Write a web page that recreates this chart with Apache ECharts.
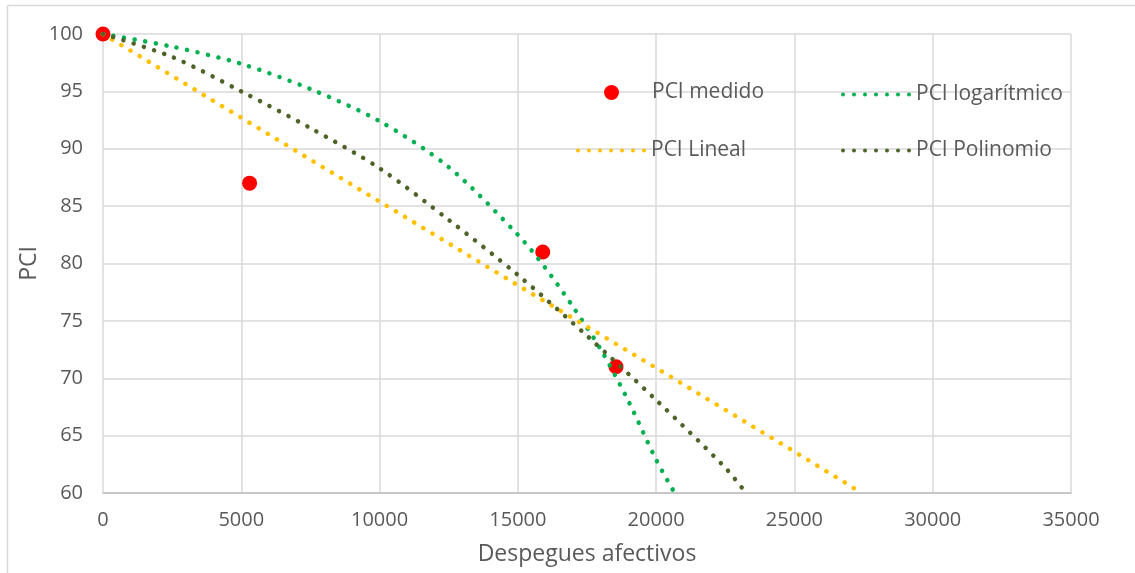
<!DOCTYPE html>
<html>
<head>
<meta charset="utf-8">
<script src="https://cdn.jsdelivr.net/npm/echarts@6/dist/echarts.min.js"></script>
<style>
html,body{margin:0;padding:0;background:#fff;}
#chart{width:1135px;height:573px;}
</style>
</head>
<body>
<div id="chart"></div>
<script>
// Data
var xTicks = [0, 5000, 10000, 15000, 20000, 25000, 30000, 35000];
var yTicks = [60, 65, 70, 75, 80, 85, 90, 95, 100];

var medidoX = [0, 5300, 15900, 18550];
var medidoY = [100, 87, 81, 71];

var logX = [0, 2500, 5000, 7500, 10000, 12500, 15000, 16000, 17000, 18000, 19000, 20000, 20670];
var logY = [100, 98.9, 97.4, 95.2, 92.4, 88.4, 82.5, 79.6, 76.2, 72.5, 68.0, 62.9, 60];

var linX = [0, 5000, 10000, 15000, 20000, 25000, 27440];
var linY = [100, 92.7, 85.4, 78.1, 70.9, 63.6, 60];

var polX = [0, 2500, 5000, 7500, 10000, 12500, 15000, 17500, 20000, 22500, 23250];
var polY = [100, 98.0, 95.0, 91.8, 88.3, 83.8, 79.0, 73.7, 68.1, 62.2, 60];

var names = ['PCI medido', 'PCI logarítmico', 'PCI Lineal', 'PCI Polinomio'];

function pairs(xs, ys) { return xs.map(function (x, i) { return [x, ys[i]]; }); }

var FONT = 'Open Sans';
var TXT = '#595959';
var dots = [0.1, 10.6];

// legend icon: a row of seven round dots (dotted line sample)
var dotIcon = (function () {
  var p = 'path://';
  for (var i = 0; i < 7; i++) {
    var cx = 2 + i * 11;
    p += 'M' + (cx - 2) + ' 2 A2 2 0 1 0 ' + (cx + 2) + ' 2 A2 2 0 1 0 ' + (cx - 2) + ' 2 Z ';
  }
  return p;
})();

function legendAt(name, left, top, icon, w, h, pad) {
  return {
    data: [name], left: left, top: top, padding: 0, itemGap: 0,
    itemWidth: w, itemHeight: h, selectedMode: false, icon: icon,
    textStyle: { fontFamily: FONT, fontSize: 21, color: TXT, padding: pad || 0 }
  };
}

var chart = echarts.init(document.getElementById('chart'), null, { renderer: 'canvas' });
chart.setOption({
  animation: false,
  backgroundColor: '#fff',
  grid: { left: 103, right: 64, top: 34, bottom: 80, containLabel: false },
  legend: [
    legendAt(names[0], 604, 82, 'circle', 15, 15, [3, 0, 0, 28]),
    legendAt(names[1], 841, 84, dotIcon, 70, 4),
    legendAt(names[2], 576, 140, dotIcon, 70, 4),
    legendAt(names[3], 841, 140, dotIcon, 70, 4)
  ],
  xAxis: {
    type: 'value', min: xTicks[0], max: xTicks[xTicks.length - 1], interval: 5000,
    name: 'Despegues afectivos', nameLocation: 'middle', nameGap: 50,
    nameTextStyle: { fontFamily: FONT, fontSize: 23, color: TXT },
    axisLine: { show: true, lineStyle: { color: '#BFBFBF', width: 1.5 } },
    axisTick: { show: false },
    axisLabel: { fontFamily: FONT, fontSize: 20, color: TXT, margin: 17,
      formatter: function (v) { return String(v); } },
    splitLine: { show: true, lineStyle: { color: '#D9D9D9', width: 1.5 } }
  },
  yAxis: {
    type: 'value', min: yTicks[0], max: yTicks[yTicks.length - 1], interval: 5,
    name: 'PCI', nameLocation: 'middle', nameGap: 62, nameRotate: 90, nameMoveOverlap: false,
    nameTextStyle: { fontFamily: FONT, fontSize: 23, color: TXT },
    axisLine: { show: false },
    axisTick: { show: false },
    axisLabel: { fontFamily: FONT, fontSize: 20, color: TXT, margin: 20 },
    splitLine: { show: true, lineStyle: { color: '#D9D9D9', width: 1.5 } }
  },
  graphic: [
    { type: 'line', shape: { x1: 7.5, y1: 5.5, x2: 1135, y2: 5.5 }, style: { stroke: '#D9D9D9', lineWidth: 1.5 }, silent: true },
    { type: 'line', shape: { x1: 7.5, y1: 5.5, x2: 7.5, y2: 573 }, style: { stroke: '#D9D9D9', lineWidth: 1.5 }, silent: true }
  ],
  series: [
    {
      name: names[0], type: 'scatter', data: pairs(medidoX, medidoY),
      symbol: 'circle', symbolSize: 15, itemStyle: { color: '#FF0000', opacity: 1 }, z: 2
    },
    {
      name: names[1], type: 'line', data: pairs(logX, logY), smooth: 0.3,
      symbol: 'none', color: '#00B050', itemStyle: { color: '#00B050' },
      lineStyle: { color: '#00B050', width: 4.5, type: dots, cap: 'round' }, z: 3
    },
    {
      name: names[2], type: 'line', data: pairs(linX, linY), smooth: false,
      symbol: 'none', color: '#FFC000', itemStyle: { color: '#FFC000' },
      lineStyle: { color: '#FFC000', width: 4.5, type: dots, cap: 'round' }, z: 3
    },
    {
      name: names[3], type: 'line', data: pairs(polX, polY), smooth: 0.3,
      symbol: 'none', color: '#4F6228', itemStyle: { color: '#4F6228' },
      lineStyle: { color: '#4F6228', width: 4.5, type: dots, cap: 'round' }, z: 3
    }
  ]
});
</script>
</body>
</html>
